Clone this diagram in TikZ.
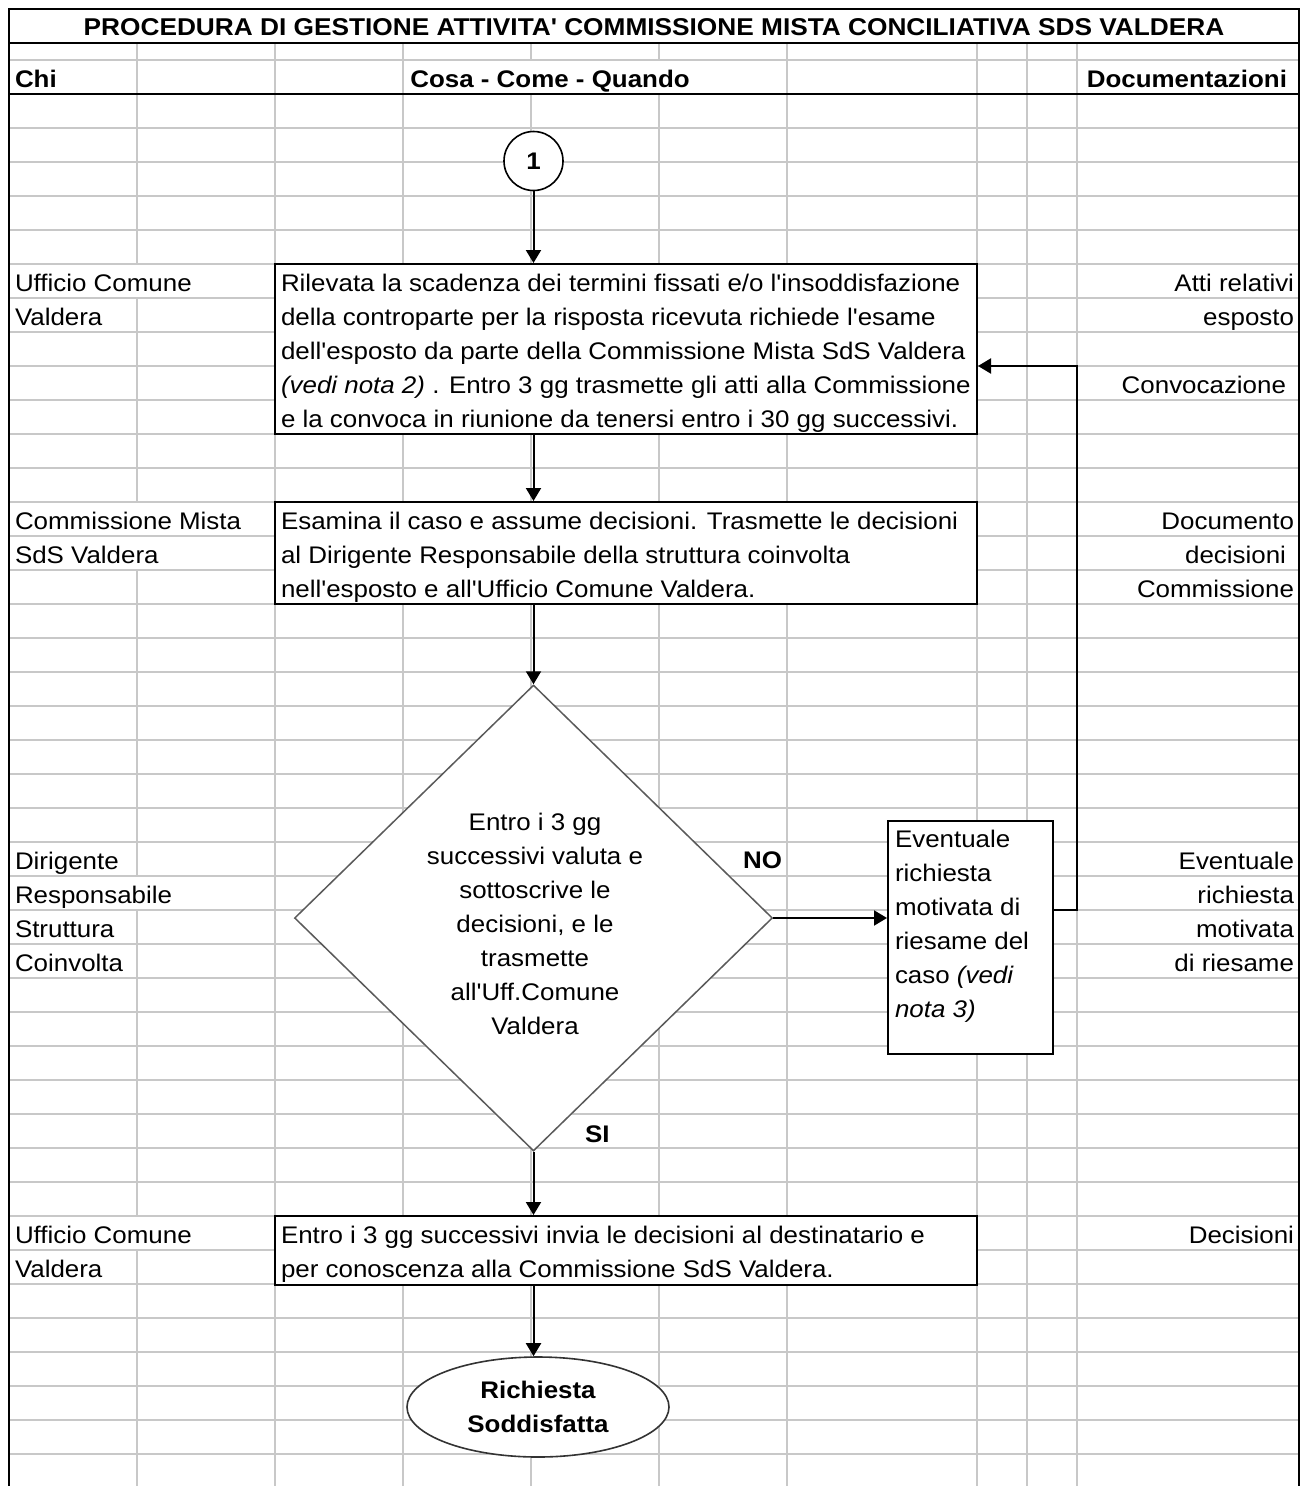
\documentclass[tikz,border=0pt]{standalone}
\usepackage{fontspec}
\setmainfont{Liberation Sans}[FakeStretch=1.08, Ligatures={TeXOff,NoCommon}]
\usetikzlibrary{arrows.meta,shapes.geometric}
\definecolor{gridgray}{RGB}{200,200,200}
\definecolor{diagray}{RGB}{90,90,90}
\newcommand\fs{\fontsize{24}{34}\selectfont}
\newcommand\Lcol[1]{\begin{tabular}[t]{@{}l@{}}#1\end{tabular}}
\newcommand\Rcol[1]{\begin{tabular}[t]{@{}r@{}}#1\end{tabular}}
\newcommand\Ccol[1]{\begin{tabular}[t]{@{}c@{}}#1\end{tabular}}
\tikzset{
  gridline/.style={draw=gridgray, line width=1.6pt},
  blackline/.style={draw=black, line width=2.6pt},
  boxnode/.style={draw=black, fill=white, line width=2pt, rectangle, inner sep=0pt},
  flow/.style={-{Triangle[length=13pt,width=15pt]}, line width=2pt},
  txt/.style={inner sep=0pt, outer sep=0pt, font=\fs},
  btxt/.style={inner sep=0pt, outer sep=0pt, font=\fs\bfseries},
  hide/.style={fill=white, draw=none},
}
\begin{document}
\begin{tikzpicture}[x=1pt,y=-1pt]
\useasboundingbox (0,0) rectangle (1304,1486);
\fill[white] (0,0) rectangle (1304,1486);
% grid
\draw[gridline] (9,60) -- (1299,60);
\foreach \k in {1,...,40} \draw[gridline] (9,{94+34*\k}) -- (1299,{94+34*\k});
\foreach \x in {137,275,403,531,659,787,977,1027,1077} \draw[gridline] (\x,43) -- (\x,1486);
% grid lines hidden by overflowing text
\fill[hide] (520,61) rectangle (670,93);
\fill[hide] (130,265) rectangle (144,297);
\fill[hide] (130,503) rectangle (144,535);
\fill[hide] (130,537) rectangle (144,569);
\fill[hide] (130,877) rectangle (144,909);
\fill[hide] (130,1217) rectangle (144,1249);
% borders
\draw[black, line width=2pt] (9,94) -- (1299,94);
\draw[blackline, fill=white] (9,9) rectangle (1299,43);
\draw[blackline] (9,9) -- (9,1486);
\draw[blackline] (1299,9) -- (1299,1486);
% title and header
\node[btxt, font=\fontsize{24.3}{34}\selectfont\bfseries, anchor=base] (title) at (654,35) {PROCEDURA DI GESTIONE ATTIVITA' COMMISSIONE MISTA CONCILIATIVA SDS VALDERA};
\node[btxt, anchor=base west] (hchi) at (15,87) {Chi};
\node[btxt, anchor=base] (hcosa) at (550,87) {Cosa - Come - Quando};
\node[btxt, anchor=base east] (hdoc) at (1287,87) {Documentazioni};
% shapes
\node[circle, draw=black, fill=white, line width=1.6pt, minimum size=59pt, inner sep=0pt, font=\fs\bfseries] (c1) at (533.5,161) {1};
\node[boxnode, minimum width=702pt, minimum height=170pt] (b1) at (626,349) {};
\node[boxnode, minimum width=702pt, minimum height=102pt] (b2) at (626,553) {};
\node[diamond, draw=diagray, fill=white, line width=1.5pt, minimum width=478pt, minimum height=466pt, inner sep=0pt] (d) at (533.5,918) {};
\node[boxnode, minimum width=165pt, minimum height=233pt] (ev) at (970.5,937.5) {};
\node[boxnode, minimum width=702pt, minimum height=69pt] (b3) at (626,1250.5) {};
\node[ellipse, draw=black!80, fill=white, line width=1.6pt, minimum width=262pt, minimum height=100pt, inner sep=0pt] (e) at (538,1407) {};
% connectors
\coordinate (lp) at (1077,910);
\coordinate (lt) at (1077,366);
\draw[flow] (c1.south) -- (c1.south |- b1.north);
\draw[flow] (b1.south -| d.north) -- (b2.north -| d.north);
\draw[flow] (b2.south -| d.north) -- (d.north);
\draw[flow] (d.south) -- (b3.north -| d.south);
\draw[flow] (b3.south -| d.south) -- (d.south |- e.north);
\draw[flow] (d.east) -- (ev.west |- d.east);
\draw[flow] (ev.east |- lp) -- (lp) -- (lt) -- (b1.east |- lt);
\node[btxt, anchor=base east] (no) at (782,868) {NO};
\node[btxt, anchor=base west] (si) at (585,1142) {SI};
% box texts
\node[txt, anchor=base west] (t1) at (281,291) {\Lcol{Rilevata la scadenza dei termini fissati e/o l'insoddisfazione\\della controparte per la risposta ricevuta richiede l'esame\\dell'esposto da parte della Commissione Mista SdS Valdera\\\textit{(vedi nota 2)} . Entro 3 gg trasmette gli atti alla Commissione\\e la convoca in riunione da tenersi entro i 30 gg successivi.}};
\node[txt, anchor=base west] (t2) at (281,529) {\Lcol{Esamina il caso e assume decisioni. Trasmette le decisioni\\al Dirigente Responsabile della struttura coinvolta\\nell'esposto e all'Ufficio Comune Valdera.}};
\node[txt, anchor=base] (t3) at (535,830) {\Ccol{Entro i 3 gg\\successivi valuta e\\sottoscrive le\\decisioni, e le\\trasmette\\all'Uff.Comune\\Valdera}};
\node[txt, anchor=base west] (t4) at (895,847) {\Lcol{Eventuale\\richiesta\\motivata di\\riesame del\\caso \textit{(vedi}\\\textit{nota 3)}}};
\node[txt, anchor=base west] (t5) at (281,1243) {\Lcol{Entro i 3 gg successivi invia le decisioni al destinatario e\\per conoscenza alla Commissione SdS Valdera.}};
\node[btxt, anchor=base] (t6) at (538,1398) {\Ccol{Richiesta\\Soddisfatta}};
% left column
\node[txt, anchor=base west] (l1) at (15,291) {\Lcol{Ufficio Comune\\Valdera}};
\node[txt, anchor=base west] (l2) at (15,529) {\Lcol{Commissione Mista\\SdS Valdera}};
\node[txt, anchor=base west] (l3) at (15,869) {\Lcol{Dirigente\\Responsabile\\Struttura\\Coinvolta}};
\node[txt, anchor=base west] (l4) at (15,1243) {\Lcol{Ufficio Comune\\Valdera}};
% right column
\node[txt, anchor=base east] (r1) at (1294,291) {\Rcol{Atti relativi\\esposto}};
\node[txt, anchor=base east] (r2) at (1286,393) {Convocazione};
\node[txt, anchor=base east] (r3) at (1294,529) {\Rcol{Documento\\decisioni\kern8pt\\Commissione}};
\node[txt, anchor=base east] (r4) at (1294,869) {\Rcol{Eventuale\\richiesta\\motivata\\di riesame}};
\node[txt, anchor=base east] (r5) at (1294,1243) {Decisioni};
\end{tikzpicture}
\end{document}
